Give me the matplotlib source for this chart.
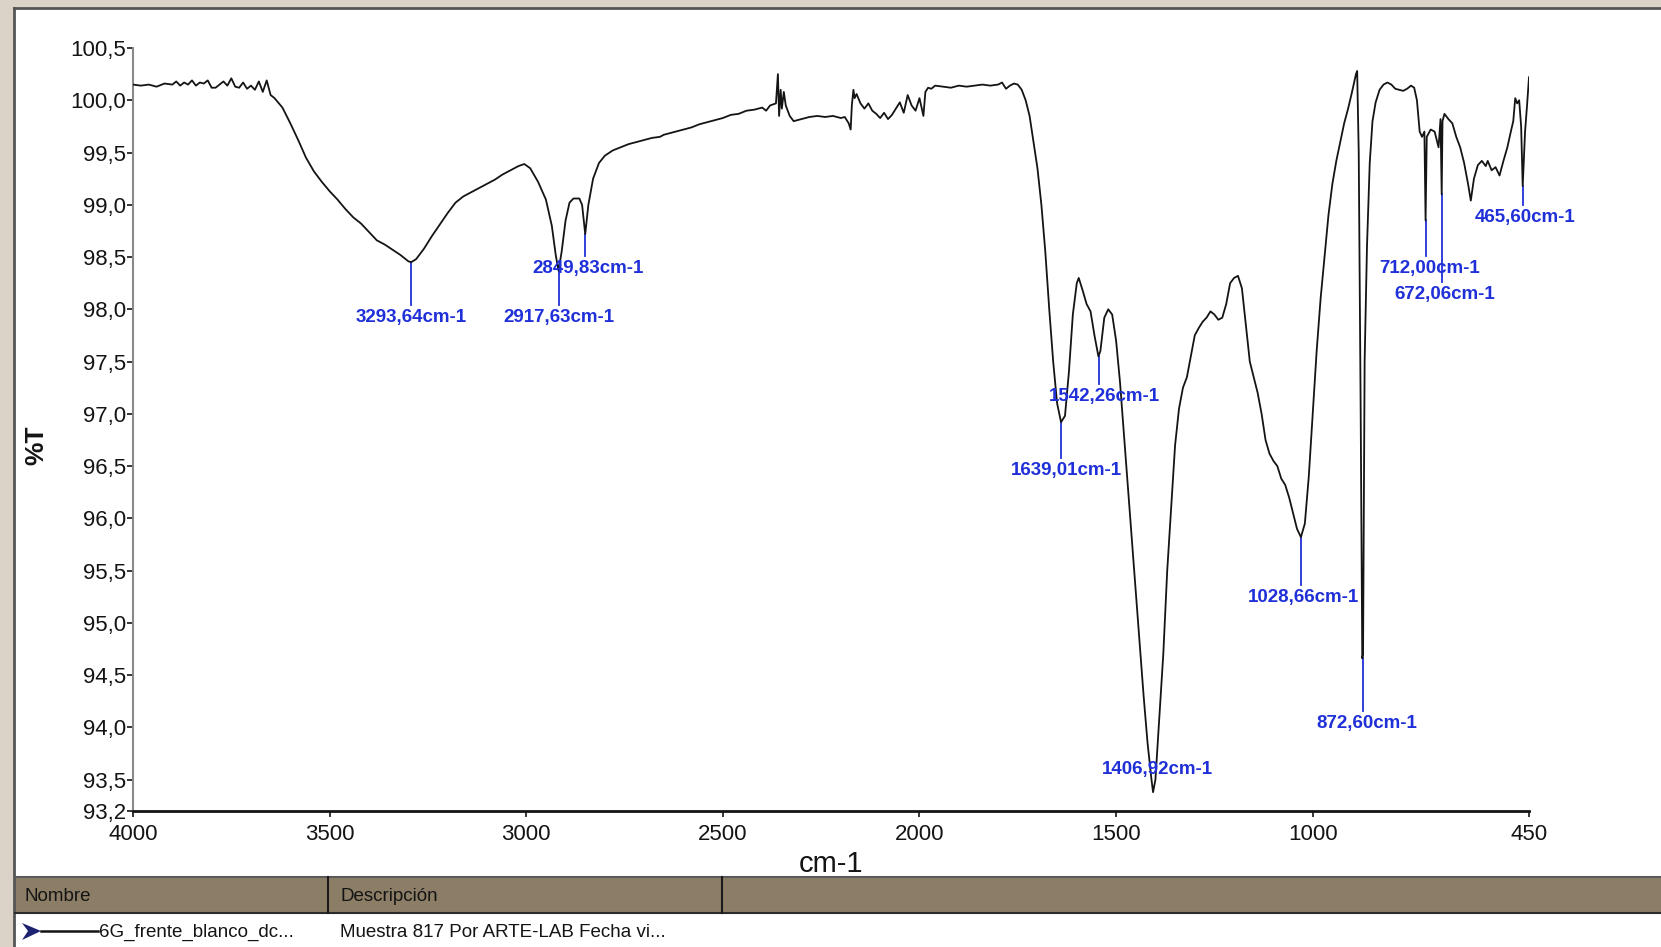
import matplotlib
matplotlib.use("Agg")
import matplotlib.pyplot as plt
from matplotlib.patches import Rectangle, Polygon
from matplotlib.lines import Line2D

plt.rcParams['font.family'] = ['Liberation Sans', 'DejaVu Sans']

# spectrum (wavenumber cm-1, %T)
wavenumber = [4000, 3980, 3960, 3940, 3920, 3900, 3890, 3880, 3870, 3860, 3850, 3840, 3830, 3820,
              3810, 3800, 3790, 3780, 3770, 3760, 3750, 3740, 3730, 3720, 3710, 3700, 3690, 3680,
              3670, 3660, 3650, 3640, 3620, 3600, 3580, 3560, 3540, 3520, 3500, 3480, 3460, 3440,
              3420, 3400, 3380, 3360, 3340, 3320, 3300, 3293, 3280, 3260, 3240, 3220, 3200, 3180,
              3160, 3140, 3120, 3100, 3080, 3060, 3040, 3020, 3005, 2990, 2970, 2950, 2935, 2925,
              2918, 2910, 2900, 2890, 2880, 2865, 2858, 2850, 2842, 2830, 2815, 2800, 2780, 2760,
              2740, 2720, 2700, 2680, 2660, 2650, 2620, 2600, 2580, 2560, 2540, 2520, 2500, 2480,
              2460, 2440, 2420, 2400, 2390, 2380, 2365, 2360, 2357, 2353, 2350, 2345, 2340, 2330,
              2320, 2300, 2280, 2260, 2240, 2220, 2200, 2190, 2180, 2175, 2172, 2168, 2165, 2160,
              2150, 2140, 2130, 2120, 2110, 2100, 2090, 2080, 2070, 2060, 2050, 2040, 2030, 2020,
              2010, 2000, 1990, 1985, 1978, 1970, 1960, 1940, 1920, 1900, 1880, 1860, 1840, 1820,
              1800, 1790, 1780, 1770, 1760, 1750, 1740, 1730, 1720, 1710, 1700, 1690, 1680, 1670,
              1660, 1650, 1640, 1630, 1620, 1610, 1600, 1595, 1585, 1575, 1565, 1555, 1545, 1540,
              1530, 1520, 1510, 1500, 1490, 1480, 1470, 1460, 1450, 1440, 1430, 1420, 1410, 1406,
              1400, 1390, 1380, 1370, 1360, 1350, 1340, 1330, 1320, 1310, 1300, 1290, 1280, 1270,
              1260, 1250, 1240, 1230, 1220, 1210, 1200, 1190, 1180, 1170, 1160, 1150, 1140, 1130,
              1120, 1110, 1100, 1090, 1080, 1070, 1060, 1050, 1040, 1030, 1020, 1010, 1000, 990,
              980, 970, 960, 950, 940, 930, 920, 910, 900, 890, 887, 883, 878, 874, 872, 868, 862,
              855, 848, 840, 830, 820, 810, 800, 790, 780, 770, 760, 750, 742, 735, 728, 722, 716,
              713, 710, 700, 690, 680, 675, 672, 670, 665, 655, 645, 635, 625, 615, 605, 598, 590,
              580, 570, 560, 555, 545, 535, 525, 515, 505, 495, 490, 485, 480, 475, 470, 466, 460,
              455, 450]
transmittance = [100.15, 100.14, 100.15, 100.13, 100.16, 100.15, 100.18, 100.14, 100.17, 100.15,
                 100.19, 100.14, 100.17, 100.16, 100.19, 100.12, 100.12, 100.15, 100.18, 100.14,
                 100.21, 100.13, 100.12, 100.17, 100.11, 100.14, 100.10, 100.18, 100.08, 100.19,
                 100.05, 100.02, 99.93, 99.78, 99.62, 99.45, 99.32, 99.22, 99.13, 99.05, 98.96,
                 98.88, 98.82, 98.74, 98.66, 98.62, 98.57, 98.52, 98.46, 98.45, 98.48, 98.58,
                 98.70, 98.81, 98.92, 99.02, 99.08, 99.12, 99.16, 99.20, 99.24, 99.29, 99.33,
                 99.37, 99.39, 99.35, 99.22, 99.05, 98.80, 98.52, 98.37, 98.55, 98.85, 99.02,
                 99.06, 99.06, 99.00, 98.72, 99.00, 99.25, 99.40, 99.47, 99.52, 99.55, 99.58,
                 99.60, 99.62, 99.64, 99.65, 99.67, 99.70, 99.72, 99.74, 99.77, 99.79, 99.81,
                 99.83, 99.86, 99.87, 99.90, 99.91, 99.93, 99.90, 99.95, 99.97, 100.25, 99.85,
                 100.10, 99.92, 100.08, 99.95, 99.85, 99.80, 99.82, 99.84, 99.85, 99.84, 99.85,
                 99.83, 99.84, 99.78, 99.72, 99.95, 100.10, 100.02, 100.06, 99.97, 99.92, 99.97,
                 99.90, 99.87, 99.83, 99.88, 99.82, 99.86, 99.92, 99.98, 99.88, 100.05, 99.95,
                 99.90, 100.02, 99.85, 100.08, 100.12, 100.11, 100.14, 100.13, 100.12, 100.14,
                 100.13, 100.14, 100.15, 100.14, 100.15, 100.17, 100.11, 100.14, 100.16, 100.15,
                 100.10, 100.00, 99.85, 99.60, 99.35, 99.00, 98.55, 98.00, 97.50, 97.10, 96.92,
                 96.98, 97.40, 97.95, 98.25, 98.30, 98.18, 98.05, 97.98, 97.75, 97.55, 97.60,
                 97.92, 98.00, 97.95, 97.70, 97.30, 96.80, 96.30, 95.80, 95.30, 94.80, 94.30,
                 93.85, 93.50, 93.38, 93.50, 94.10, 94.70, 95.50, 96.10, 96.70, 97.05, 97.25,
                 97.35, 97.55, 97.75, 97.82, 97.88, 97.92, 97.98, 97.95, 97.90, 97.92, 98.05,
                 98.25, 98.30, 98.32, 98.20, 97.85, 97.50, 97.35, 97.20, 97.00, 96.75, 96.62,
                 96.55, 96.50, 96.38, 96.32, 96.20, 96.05, 95.90, 95.82, 95.95, 96.40, 97.00,
                 97.60, 98.10, 98.50, 98.90, 99.20, 99.42, 99.60, 99.78, 99.92, 100.08, 100.25,
                 100.28, 99.50, 97.00, 94.66, 94.70, 97.50, 98.60, 99.40, 99.80, 99.98, 100.10,
                 100.15, 100.17, 100.15, 100.11, 100.10, 100.09, 100.11, 100.14, 100.12, 100.00,
                 99.70, 99.65, 99.70, 98.85, 99.65, 99.72, 99.70, 99.55, 99.82, 99.10, 99.80,
                 99.87, 99.82, 99.78, 99.65, 99.55, 99.40, 99.20, 99.04, 99.25, 99.38, 99.42,
                 99.37, 99.42, 99.33, 99.36, 99.28, 99.42, 99.55, 99.72, 99.80, 100.02, 99.97,
                 100.00, 99.75, 99.18, 99.70, 99.95, 100.22]

# labelled peaks
peak_wn = [3293.64, 2917.63, 2849.83, 1639.01, 1542.26, 1406.92, 1028.66, 872.60, 712.00, 672.06, 465.60]
peak_t = [98.45, 98.37, 98.72, 96.92, 97.55, 93.38, 95.82, 94.66, 98.85, 99.10, 99.18]
peak_labels = ['3293,64cm-1', '2917,63cm-1', '2849,83cm-1', '1639,01cm-1', '1542,26cm-1',
               '1406,92cm-1', '1028,66cm-1', '872,60cm-1', '712,00cm-1', '672,06cm-1', '465,60cm-1']
# where the label text sits
label_x = [3293, 2918, 2843, 1627, 1530, 1396, 1024, 863, 702, 664, 460]
label_y = [97.92, 97.92, 98.39, 96.46, 97.17, 93.60, 95.24, 94.04, 98.39, 98.14, 98.88]

y_ticks = [93.2, 93.5, 94.0, 94.5, 95.0, 95.5, 96.0, 96.5, 97.0, 97.5, 98.0, 98.5, 99.0, 99.5, 100.0, 100.5]
x_ticks = [4000, 3500, 3000, 2500, 2000, 1500, 1000, 450]

W, H = 1661, 947
beige = '#dcd3c8'
header = '#8c7e66'
blue = '#2030d8'
ink = '#141414'

fig = plt.figure(figsize=(W / 100, H / 100), dpi=100, facecolor=beige)

def fx(px):
    return px / W

def fy(py):
    return (H - py) / H

# white panel with dark edge
fig.patches.append(Rectangle((fx(14), 0), 1.0, fy(8), transform=fig.transFigure,
                             facecolor='white', edgecolor='none', zorder=0))
fig.lines.append(Line2D([fx(14), 1.0], [fy(8), fy(8)], transform=fig.transFigure, color='#555555', lw=2))
fig.lines.append(Line2D([fx(14), fx(14)], [0, fy(8)], transform=fig.transFigure, color='#555555', lw=2))

# table header at the bottom
fig.patches.append(Rectangle((fx(15), fy(913)), 1.0, fy(877) - fy(913), transform=fig.transFigure,
                             facecolor=header, edgecolor='none', zorder=1))
for yy, c in [(877, '#5a5a5a'), (913, '#2a2a2a')]:
    fig.lines.append(Line2D([fx(15), 1.0], [fy(yy), fy(yy)], transform=fig.transFigure, color=c, lw=1.5))
for xx in [328, 722]:
    fig.lines.append(Line2D([fx(xx), fx(xx)], [fy(913), fy(877)], transform=fig.transFigure, color='#1a1a1a', lw=1.5))
fig.text(fx(25), fy(896), 'Nombre', fontsize=13.5, color=ink, va='center')
fig.text(fx(340), fy(896), 'Descripción', fontsize=13.5, color=ink, va='center')
fig.patches.append(Polygon([(fx(22), fy(923)), (fx(41), fy(931)), (fx(22), fy(940)), (fx(28), fy(931))],
                           closed=True, transform=fig.transFigure, facecolor='#1c2270', edgecolor='none'))
fig.lines.append(Line2D([fx(41), fx(98)], [fy(931), fy(931)], transform=fig.transFigure, color=ink, lw=1.8))
fig.text(fx(99), fy(932), '6G_frente_blanco_dc...', fontsize=13.5, color=ink, va='center')
fig.text(fx(340), fy(932), 'Muestra 817 Por ARTE-LAB Fecha vi...', fontsize=13.5, color=ink, va='center')

# plot area
ax = fig.add_axes([fx(133), fy(811), fx(1529) - fx(133), fy(48) - fy(811)])
ax.set_zorder(5)
ax.patch.set_alpha(0)
ax.plot(wavenumber, transmittance, color=ink, lw=1.3, zorder=3)

for wn, t, lab, tx, ty in zip(peak_wn, peak_t, peak_labels, label_x, label_y):
    if ty < t:
        ax.plot([wn, wn], [ty + 0.12, t], color=blue, lw=1.3, zorder=2)
    ax.text(tx, ty, lab, color=blue, fontsize=13.5, fontweight='bold', ha='center', va='center', zorder=4)

ax.set_xlim(4000, 450)
ax.set_ylim(93.2, 100.5)
ax.set_xticks(x_ticks)
ax.set_xticklabels([str(v) for v in x_ticks])
ax.set_yticks(y_ticks)
ax.set_yticklabels([f'{v:.1f}'.replace('.', ',') for v in y_ticks])
ax.tick_params(axis='both', labelsize=16, colors=ink, length=4, width=1.2)
ax.tick_params(axis='y', pad=1)
ax.tick_params(axis='x', pad=5)
for s in ['top', 'right']:
    ax.spines[s].set_visible(False)
ax.spines['left'].set_color('#8a8a8a')
ax.spines['left'].set_linewidth(1.5)
ax.spines['bottom'].set_color(ink)
ax.spines['bottom'].set_linewidth(2)

ax.set_xlabel('cm-1', fontsize=21, color=ink)
ax.xaxis.set_label_coords(0.5, -0.07)
ax.xaxis.label.set_va('center')
ax.set_ylabel('%T', fontsize=19, fontweight='bold', color=ink)
ax.yaxis.set_label_coords(-0.069, 0.48)
ax.yaxis.label.set_va('center')

fig.savefig('out.png', dpi=100, facecolor=beige)
